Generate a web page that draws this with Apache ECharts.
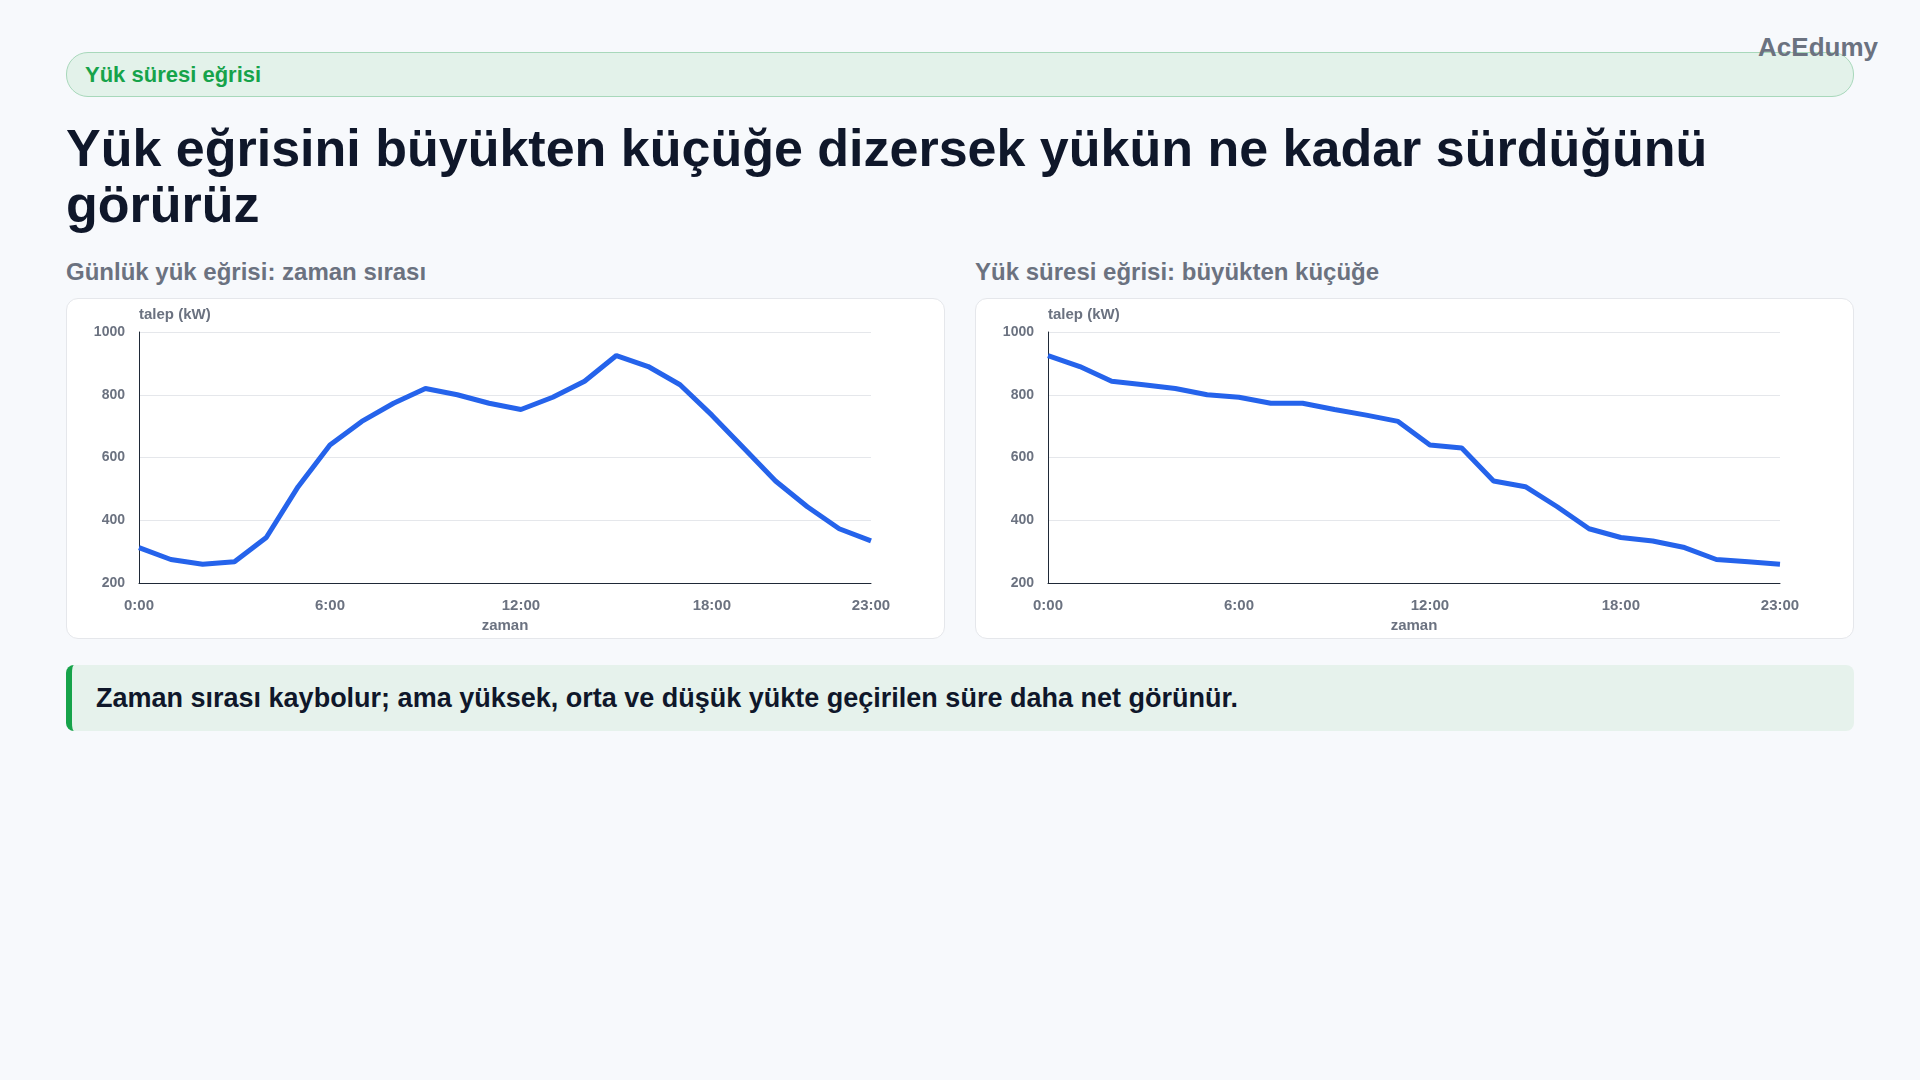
<!DOCTYPE html>
<html><head><meta charset="utf-8">
<script src="https://cdn.jsdelivr.net/npm/echarts@6/dist/echarts.min.js"></script>
<style>
body{margin:0;width:1920px;height:1080px;background:#f7f9fc;font-family:"Liberation Sans",Arial,sans-serif;position:relative;overflow:hidden}
.badge{position:absolute;left:66px;top:52px;width:1788px;height:45px;background:#e3f2ea;border:1px solid #a8d8bb;border-radius:22px;box-sizing:border-box;color:#16a34a;font-weight:bold;font-size:22px;line-height:43px;padding-left:18px}
.brand{position:absolute;right:42px;top:32px;color:#6b7280;font-weight:bold;font-size:26px;z-index:5}
h1{position:absolute;left:66px;top:120px;margin:0;width:1780px;font-size:52px;line-height:56px;color:#0f172a}
.sub{position:absolute;top:258px;font-size:24px;font-weight:bold;color:#6b7280}
.card{position:absolute;top:298px;width:879px;height:341px;background:#fff;border:1px solid #e5e7eb;border-radius:12px;box-sizing:border-box}
.note{position:absolute;left:66px;top:665px;width:1788px;height:66px;background:#e6f2ec;border-left:6px solid #16a34a;border-radius:8px;box-sizing:border-box;font-size:27px;font-weight:bold;color:#0f172a;line-height:66px;padding-left:24px}
</style></head><body>
<div class="badge">Yük süresi eğrisi</div>
<div class="brand">AcEdumy</div>
<h1>Yük eğrisini büyükten küçüğe dizersek yükün ne kadar sürdüğünü görürüz</h1>
<div class="sub" style="left:66px">Günlük yük eğrisi: zaman sırası</div>
<div class="sub" style="left:975px">Yük süresi eğrisi: büyükten küçüğe</div>
<div class="card" id="c1" style="left:66px"></div>
<div class="card" id="c2" style="left:975px"></div>
<div class="note">Zaman sırası kaybolur; ama yüksek, orta ve düşük yükte geçirilen süre daha net görünür.</div>
<script>
const hours = Array.from({length:24},(_, i)=>i+':00');
const dailyLoad = [313,275,260,268,345,507,640,715,773,820,800,773,753,792,843,925,890,832,735,630,525,443,373,334];
const durationLoad = dailyLoad.slice().sort((a,b)=>b-a);
const shownTicks = [0,6,12,18,23];
function opt(data){
  return {
    animation:false,
    grid:{left:72,right:73,top:33,bottom:55},
    xAxis:{type:'category',data:hours,boundaryGap:false,name:'zaman',nameLocation:'middle',nameGap:27,
      nameTextStyle:{color:'#6b7280',fontWeight:'bold',fontSize:15},
      axisLine:{lineStyle:{color:'#1f2937'}},axisTick:{show:false},
      axisLabel:{interval:(i)=>shownTicks.includes(i),color:'#6b7280',fontWeight:'bold',fontSize:15,margin:15}},
    yAxis:{type:'value',min:200,max:1000,interval:200,name:'talep (kW)',nameLocation:'end',nameGap:10,
      nameTextStyle:{color:'#6b7280',fontWeight:'bold',fontSize:15,align:'left'},
      axisLine:{show:true,lineStyle:{color:'#1f2937'}},
      axisLabel:{color:'#6b7280',fontWeight:'bold',fontSize:14,margin:14,formatter:(v)=>String(v)},
      splitLine:{lineStyle:{color:'#e5e7eb'}}},
    series:[{type:'line',data:data,showSymbol:false,lineStyle:{color:'#2563eb',width:5},itemStyle:{color:'#2563eb'}}]
  };
}
echarts.init(document.getElementById('c1')).setOption(opt(dailyLoad));
echarts.init(document.getElementById('c2')).setOption(opt(durationLoad));
</script>
</body></html>
